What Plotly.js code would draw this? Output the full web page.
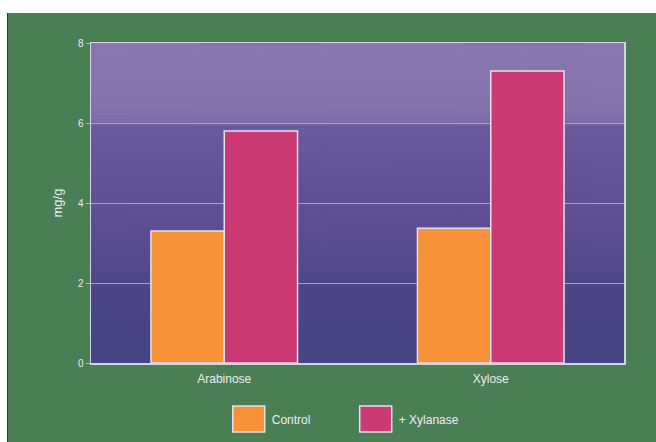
<!DOCTYPE html>
<html>
<head>
<meta charset="utf-8">
<script src="https://cdn.plot.ly/plotly-3.0.1.min.js"></script>
<style>
  html, body { margin: 0; padding: 0; background: #ffffff; width: 656px; height: 442px; overflow: hidden; }
  #wrap { position: absolute; left: 7px; top: 13px; width: 1px; height: 429px; background: #2e3e30; }
  #chart { position: absolute; left: 8px; top: 13px; width: 648px; height: 429px; }
</style>
</head>
<body>
<div id="wrap"></div>
<div id="chart"></div>
<script>
// Data
var categories = ["Arabinose", "Xylose"];
var controlValues = [3.3, 3.37];
var xylanaseValues = [5.8, 7.3];
var seriesNames = ["Control", "+ Xylanase"];
var seriesColors = ["#F7923A", "#CB3A74"];
var yTickValues = [0, 2, 4, 6, 8];
var yTickLabels = ["0", "2", "4", "6", "8"];

// Background gradient for plot area
function makeBg() {
  var c = document.createElement("canvas");
  c.width = 8; c.height = 320;
  var ctx = c.getContext("2d");
  var g = ctx.createLinearGradient(0, 0, 0, 320);
  g.addColorStop(0.00, "#8978B0");
  g.addColorStop(0.20, "#8473AC");
  g.addColorStop(0.245, "#7D6CA6");
  g.addColorStop(0.26, "#6C5A9E");
  g.addColorStop(0.40, "#65539A");
  g.addColorStop(0.55, "#5E4E94");
  g.addColorStop(0.68, "#554A8D");
  g.addColorStop(0.76, "#4B4688");
  g.addColorStop(1.00, "#464586");
  ctx.fillStyle = g;
  ctx.fillRect(0, 0, 8, 320);
  return c.toDataURL("image/png");
}

var traces = [
  {
    type: "bar", name: seriesNames[0], x: categories, y: controlValues,
    marker: { color: seriesColors[0], line: { color: "#E2E2EA", width: 1.5 } }
  },
  {
    type: "bar", name: seriesNames[1], x: categories, y: xylanaseValues,
    marker: { color: seriesColors[1], line: { color: "#E2E2EA", width: 1.5 } }
  }
];

var layout = {
  width: 648, height: 429,
  margin: { l: 83, r: 32, t: 30, b: 79 },
  paper_bgcolor: "#4A7E54",
  plot_bgcolor: "#5A4E92",
  barmode: "group",
  bargap: 0.45,
  bargroupgap: 0,
  font: { family: "Liberation Sans, Arial, sans-serif", color: "#EEEEF2", size: 12 },
  showlegend: true,
  legend: {
    orientation: "h", x: 0.264, xanchor: "left", xref: "paper",
    y: 0.0536, yanchor: "middle", yref: "container",
    font: { size: 12, color: "#EEEEF2" }, bgcolor: "rgba(0,0,0,0)",
    entrywidth: 82, entrywidthmode: "pixels"
  },
  xaxis: {
    showline: true, linecolor: "#D4D4E0", linewidth: 1.5, mirror: true,
    showgrid: false, ticks: "", tickfont: { size: 12, color: "#EEEEF2" },
    ticklabelstandoff: 4,
    fixedrange: true
  },
  yaxis: {
    range: [0, 8], tickvals: yTickValues, ticktext: yTickLabels,
    showline: true, linecolor: "#D4D4E0", linewidth: 1.5, mirror: true,
    showgrid: true, gridcolor: "#ABA2CC", gridwidth: 1,
    zeroline: false,
    ticks: "outside", ticklen: 4, tickcolor: "#B8B8CC", tickwidth: 1,
    tickfont: { size: 10, color: "#EEEEF2" },
    title: { text: "mg/g", font: { size: 13, color: "#EEEEF2" }, standoff: 12 },
    fixedrange: true
  },
  images: [{
    source: makeBg(), xref: "paper", yref: "paper", x: 0, y: 1,
    sizex: 1, sizey: 1, xanchor: "left", yanchor: "top",
    sizing: "stretch", layer: "below"
  }]
};

Plotly.newPlot("chart", traces, layout, { displayModeBar: false, staticPlot: true }).then(function () {
  var paths = document.querySelectorAll("#chart .legend .legendpoints path");
  paths.forEach(function (p) {
    p.setAttribute("d", "M13,13H-19V-13H13Z");
    p.style.stroke = "#E2E2EA";
    p.style.strokeWidth = "1.5px";
  });
});
</script>
</body>
</html>
